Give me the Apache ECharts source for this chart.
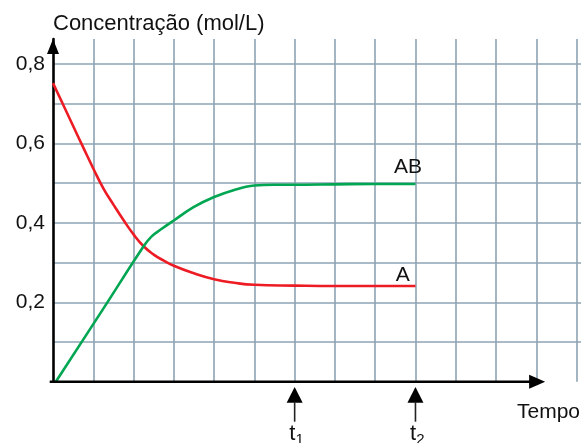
<!DOCTYPE html>
<html>
<head>
<meta charset="utf-8">
<script src="https://cdn.jsdelivr.net/npm/echarts@6/dist/echarts.min.js"></script>
<style>
  html, body { margin: 0; padding: 0; background: #fff; }
  #c { width: 587px; height: 443px; }
</style>
</head>
<body>
<div id="c"></div>
<script>
// Reaction A -> AB: concentration (mol/L) against time (grid units)
const timeA  = [0, 0.25, 0.5, 0.75, 1, 1.25, 1.5, 1.75, 2, 2.25, 2.5, 2.75, 3, 3.5, 4, 4.5, 5, 6, 7, 8, 9];
const concA  = [0.752, 0.698, 0.644, 0.590, 0.537, 0.487, 0.446, 0.407, 0.371, 0.341, 0.320, 0.305, 0.292, 0.273, 0.258, 0.249, 0.244, 0.242, 0.241, 0.241, 0.241];
const timeAB = [0.07, 1.25, 2.25, 2.45, 2.7, 3, 3.5, 4, 4.5, 5, 5.5, 6, 7, 8, 9];
const concAB = [0, 0.184, 0.341, 0.366, 0.385, 0.406, 0.440, 0.465, 0.483, 0.494, 0.496, 0.496, 0.497, 0.498, 0.498];
const seriesNames = ['A', 'AB'];

// Axis ticks
const yTickValues = [0.2, 0.4, 0.6, 0.8];
const yTickLabels = ['0,2', '0,4', '0,6', '0,8'];
const timeMarks = [6, 9];
const timeMarkSubs = ['1', '2'];

// Layout
const X_MAX = 13.11;
const Y_MAX = 0.863;
const X_ARROW_END = 12.22;
const FONT = '"Liberation Sans", Arial, Helvetica, sans-serif';
const GRID_COLOR = '#8ea3b3';
const INK = '#111';

const chart = echarts.init(document.getElementById('c'));

function pairs(xs, ys) {
  return xs.map((x, i) => [x, ys[i]]);
}

function tickLabel(v) {
  const i = yTickValues.findIndex(t => Math.abs(t - v) < 1e-6);
  return i >= 0 ? yTickLabels[i] : '';
}

chart.setOption({
  animation: false,
  grid: { left: 53, right: 6, top: 39, bottom: 61.3 },
  xAxis: {
    type: 'value', min: 0, max: X_MAX, interval: 1,
    axisLine: { show: false },
    axisTick: { show: false },
    axisLabel: { show: false },
    splitLine: { show: true, showMinLine: false, showMaxLine: false,
      lineStyle: { color: GRID_COLOR, width: 1.6 } }
  },
  yAxis: {
    type: 'value', min: 0, max: Y_MAX, interval: 0.1, offset: 2,
    axisLine: { show: true, symbol: ['none', 'triangle'], symbolSize: [12, 15], symbolOffset: [0, -7.5],
      lineStyle: { color: '#000', width: 2.6 } },
    axisTick: { show: false },
    axisLabel: { margin: 6, fontSize: 21, color: INK, fontFamily: FONT, formatter: tickLabel },
    splitLine: { show: true, showMinLine: false, showMaxLine: false,
      lineStyle: { color: GRID_COLOR, width: 1.6 } },
    name: 'Concentração (mol/L)', nameLocation: 'end', nameGap: 4,
    nameTextStyle: { align: 'left', fontSize: 22, color: INK, fontFamily: FONT }
  },
  series: [
    {
      name: seriesNames[0], type: 'line', data: pairs(timeA, concA),
      showSymbol: false, smooth: 0.5,
      lineStyle: { color: '#ed1c24', width: 2.6 },
      endLabel: { show: true, formatter: seriesNames[0], align: 'center', verticalAlign: 'middle',
        distance: 0, offset: [-12.7, -10.3], fontSize: 21, color: INK, fontFamily: FONT }
    },
    {
      name: seriesNames[1], type: 'line', data: pairs(timeAB, concAB),
      showSymbol: false, smooth: 0.4,
      lineStyle: { color: '#00a651', width: 2.6 },
      endLabel: { show: true, formatter: seriesNames[1], align: 'center', verticalAlign: 'middle',
        distance: 0, offset: [-7.4, -16.5], fontSize: 21, color: INK, fontFamily: FONT }
    }
  ]
});

// Time axis with arrow, t1/t2 markers and the axis title
const toPx = (x, y) => chart.convertToPixel({ gridIndex: 0 }, [x, y]);
const origin = toPx(0, 0);
const oy = origin[1];
const yAxisX = origin[0] - 2;
const tip = toPx(X_ARROW_END, 0)[0];

const graphics = [
  { type: 'line', z: 10, shape: { x1: yAxisX - 1.3, y1: oy, x2: tip - 14, y2: oy },
    style: { stroke: '#000', lineWidth: 2.6 } },
  { type: 'polygon', z: 10, shape: { points: [[tip, oy], [tip - 16, oy - 7], [tip - 16, oy + 7]] },
    style: { fill: '#000' } },
  { type: 'text', z: 10, x: toPx(X_MAX, 0)[0] - 64, y: oy + 30.3,
    style: { text: 'Tempo', fontSize: 21, fontFamily: FONT, fill: INK, verticalAlign: 'middle', align: 'left' } }
];

timeMarks.forEach((t, i) => {
  const px = toPx(t, 0)[0];
  graphics.push(
    { type: 'polygon', z: 10, shape: { points: [[px, oy + 5.3], [px - 8, oy + 21], [px + 8, oy + 21]] },
      style: { fill: '#000' } },
    { type: 'line', z: 10, shape: { x1: px, y1: oy + 20, x2: px, y2: oy + 40 },
      style: { stroke: '#222', lineWidth: 1.6 } },
    { type: 'text', z: 10, x: px - 5.5, y: oy + 51.8,
      style: { text: 't', fontSize: 22, fontFamily: FONT, fill: INK, verticalAlign: 'middle', align: 'left' } },
    { type: 'text', z: 10, x: px + 0.8, y: oy + 58,
      style: { text: timeMarkSubs[i], fontSize: 15, fontFamily: FONT, fill: INK, verticalAlign: 'middle', align: 'left' } }
  );
});

chart.setOption({ graphic: graphics });
</script>
</body>
</html>
